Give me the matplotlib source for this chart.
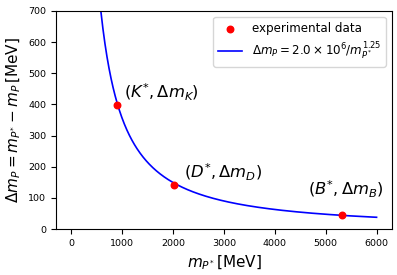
import matplotlib
matplotlib.use("Agg")
import matplotlib.pyplot as plt
import numpy as np

# vector meson masses and hyperfine splittings (MeV)
masses = [892, 2010, 5325]
deltas = [398, 140, 46]
names = [r'$(K^{*},\Delta m_K)$', r'$(D^{*},\Delta m_D)$', r'$(B^{*},\Delta m_B)$']
label_pos = [(1040, 420), (2220, 162), (4650, 108)]

# fit: dm = A / m^p
A = 2.0e6
p = 1.25

fig = plt.figure(figsize=(3.97, 2.75), dpi=100)
ax = fig.add_axes([0.141, 0.167, 0.846, 0.793])

m = np.linspace(1, 6000, 600)
ax.scatter(masses, deltas, color='red', s=22, zorder=3, label='experimental data')
ax.plot(m, A / m**p, color='blue', lw=1.2,
        label=r'$\Delta m_P = 2.0\times10^6/m_{P^{*}}^{1.25}$')

for (x, y), t in zip(label_pos, names):
    ax.text(x, y, t, fontsize=11.8)

ax.set_ylim(0, 700)
ax.set_xlim(-300, 6300)
ax.set_xlabel(r'$m_{P^{*}}\,$[MeV]', fontsize=11)
ax.set_ylabel(r'$\Delta m_P = m_{P^{*}} - m_P\,$[MeV]', fontsize=11)
ax.tick_params(labelsize=6.8)
ax.legend(loc='upper right', fontsize=8.6)

fig.savefig('out.png', dpi=100)
